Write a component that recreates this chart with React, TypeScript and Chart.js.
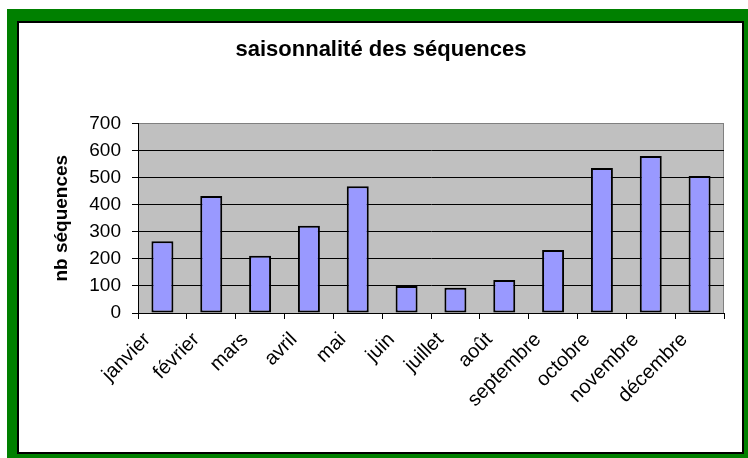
import React, { useEffect, useRef } from "react";
import { Chart, registerables } from "chart.js";

Chart.register(...registerables);

const months = [
  "janvier",
  "février",
  "mars",
  "avril",
  "mai",
  "juin",
  "juillet",
  "août",
  "septembre",
  "octobre",
  "novembre",
  "décembre",
];
const sequences = [265, 432, 211, 322, 468, 100, 93, 122, 233, 535, 580, 506];
const yMin = 0;
const yMax = 700;
const yStep = 100;

const chartTitle = "saisonnalité des séquences";
const yTitle = "nb séquences";

const FONT = "'Liberation Sans', Arial, Helvetica, sans-serif";

export default function App() {
  const ref = useRef<HTMLCanvasElement>(null);

  useEffect(() => {
    const plotBg = {
      id: "plotBg",
      afterLayout(chart: any) {
        const t = chart.titleBlock;
        if (t) {
          t.left += 10;
          t.right += 10;
        }
      },
      beforeDraw(chart: any) {
        const { ctx, chartArea: a } = chart;
        ctx.save();
        ctx.fillStyle = "#C0C0C0";
        ctx.fillRect(a.left, a.top, a.right - a.left, a.bottom - a.top);
        ctx.strokeStyle = "#808080";
        ctx.lineWidth = 1;
        ctx.beginPath();
        ctx.moveTo(a.left, Math.round(a.top) + 0.5);
        ctx.lineTo(Math.round(a.right) - 0.5, Math.round(a.top) + 0.5);
        ctx.lineTo(Math.round(a.right) - 0.5, a.bottom);
        ctx.stroke();
        ctx.restore();
      },
    };

    const chart = new Chart(ref.current!, {
      type: "bar",
      data: {
        labels: months,
        datasets: [
          {
            data: sequences,
            backgroundColor: "#9999FF",
            borderColor: "#000000",
            borderWidth: 2,
            borderSkipped: false,
            barPercentage: 0.45,
            categoryPercentage: 1,
          },
        ],
      },
      options: {
        responsive: false,
        animation: false,
        devicePixelRatio: 1,
        layout: { padding: { left: 18, right: 24, top: 22, bottom: 5 } },
        plugins: {
          legend: { display: false },
          tooltip: { enabled: false },
          title: {
            display: true,
            text: chartTitle,
            color: "#000",
            font: { family: FONT, size: 22, weight: "bold" },
            padding: { top: 15, bottom: 60 },
          },
        },
        scales: {
          x: {
            offset: true,
            grid: {
              offset: true,
              drawOnChartArea: false,
              drawTicks: true,
              tickLength: 6,
              tickColor: "#000",
              color: "#000",
            },
            border: { display: true, color: "#000", width: 1 },
            ticks: {
              autoSkip: false,
              minRotation: 45,
              maxRotation: 45,
              padding: 9,
              labelOffset: -15,
              color: "#000",
              font: { family: FONT, size: 20 },
            },
            afterFit: (s: any) => {
              s.height = 140;
            },
          },
          y: {
            min: yMin,
            max: yMax,
            ticks: {
              stepSize: yStep,
              padding: 11,
              color: "#000",
              font: { family: FONT, size: 19 },
            },
            grid: {
              color: (c: any) =>
                c.tick && c.tick.value === yMax ? "#808080" : "#000",
              tickColor: "#000",
              tickLength: 6,
              lineWidth: 1,
            },
            border: { display: true, color: "#000", width: 1 },
            title: {
              display: true,
              text: yTitle,
              color: "#000",
              font: { family: FONT, size: 19, weight: "bold" },
              padding: { top: 32, bottom: 0 },
            },
            afterFit: (s: any) => {
              s.width = 120;
            },
          },
        },
      },
      plugins: [plotBg],
    } as any);

    return () => chart.destroy();
  }, []);

  return (
    <div
      style={{
        position: "fixed",
        left: 0,
        top: 0,
        width: 748,
        height: 458,
        background: "#fff",
        overflow: "hidden",
      }}
    >
      <div
        style={{
          position: "absolute",
          left: 7,
          top: 9,
          width: 741,
          height: 449,
          background: "#008000",
        }}
      />
      <div
        style={{
          position: "absolute",
          left: 17,
          top: 21,
          width: 727,
          height: 433,
          background: "#fff",
          border: "2px solid #000",
          boxSizing: "border-box",
        }}
      />
      <canvas
        ref={ref}
        width={748}
        height={458}
        style={{ position: "absolute", left: 0, top: 0, width: 748, height: 458 }}
      />
    </div>
  );
}
